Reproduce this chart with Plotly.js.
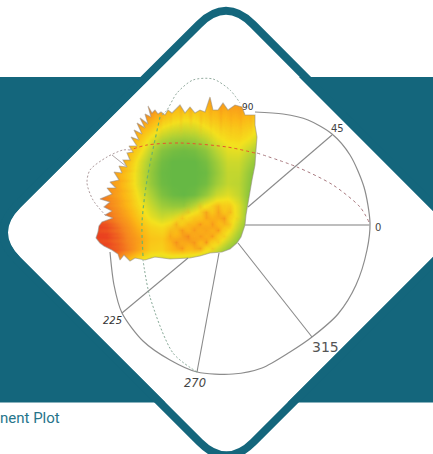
<!DOCTYPE html>
<html><head><meta charset="utf-8">
<script src="https://cdn.plot.ly/plotly-3.0.1.min.js"></script>
<style>html,body{margin:0;padding:0;background:#fff;overflow:hidden}#c{width:433px;height:454px}</style>
</head><body><div id="c"></div>
<script>
const gridX=[95,106,117,128,139,150,161,172,183,194,205,216,227,238,249,260];
const gridY=[95,106,117,128,139,150,161,172,183,194,205,216,227,238,249,260,271];
const surface=[
[.8,.8,.8,.85,.85,.85,.8,.72,.66,.66,.7,.74,.75,.78,.72,.6],
[.85,.85,.85,.85,.85,.82,.72,.64,.6,.58,.62,.68,.7,.72,.68,.6],
[.85,.85,.85,.85,.8,.7,.58,.5,.46,.46,.52,.58,.62,.64,.6,.5],
[.85,.85,.85,.78,.68,.54,.4,.34,.31,.33,.4,.47,.52,.54,.5,.4],
[.85,.85,.78,.7,.56,.38,.24,.18,.16,.18,.26,.38,.45,.47,.4,.28],
[.85,.82,.74,.62,.46,.26,.1,.05,.03,.05,.12,.26,.37,.38,.28,.16],
[.82,.78,.7,.56,.36,.17,.04,0,0,0,.05,.18,.31,.31,.2,.08],
[.82,.76,.68,.52,.33,.14,.02,0,0,0,.02,.15,.28,.28,.14,.04],
[.84,.78,.68,.52,.33,.15,.03,0,0,0,.04,.18,.28,.26,.12,.02],
[.88,.8,.7,.56,.38,.22,.08,.02,0,.03,.14,.3,.36,.28,.1,.02],
[.92,.85,.74,.6,.44,.3,.18,.14,.14,.26,.42,.52,.52,.36,.1,.02],
[.96,.9,.8,.68,.52,.38,.3,.34,.42,.52,.6,.62,.56,.36,.08,.02],
[1,.98,.88,.76,.62,.5,.46,.52,.6,.66,.68,.64,.5,.26,.06,.02],
[1,1,.92,.8,.7,.56,.54,.66,.7,.7,.64,.54,.34,.14,.03,.02],
[1,.98,.92,.82,.68,.52,.5,.62,.62,.58,.46,.32,.14,.05,.02,.02],
[.95,.9,.78,.58,.42,.32,.3,.28,.26,.22,.16,.1,.05,.02,.02,.02],
[.95,.9,.78,.58,.42,.32,.3,.28,.26,.22,.16,.1,.05,.02,.02,.02]];
const heatColors=[[0,'#66b844'],[.22,'#aed136'],[.42,'#f4e21e'],[.62,'#fcb716'],[.82,'#f6841f'],[1,'#ea3f20']];
const overlayColors=[[0,'rgba(250,225,40,.45)'],[.5,'rgba(250,180,30,0)'],[1,'rgba(238,100,30,.55)']];
const blotchX=[164,170,176,182,188,194,200,206,212,218,224,230,236,242];
const blotchY=[200,206,212,218,224,230,236,242,248,254];
const blotch=[
[.5,.5,.5,.5,.5,.5,.5,.5,.5,.5,.5,.5,.5,.5],
[.5,.5,.5,.5,.55,.45,.7,.4,.62,.8,.42,.66,.45,.5],
[.5,.5,.46,.6,.72,.36,.66,.9,.5,.86,.56,.78,.42,.5],
[.5,.5,.62,.78,.4,.6,.44,.82,.66,.74,.92,.38,.62,.5],
[.5,.58,.84,.42,.7,.62,.9,.36,.88,.44,.76,.7,.44,.5],
[.5,.72,.66,.9,.5,.84,.4,.72,.58,.92,.34,.6,.48,.5],
[.5,.8,.4,.76,.94,.34,.82,.62,.9,.42,.7,.44,.5,.5],
[.5,.62,.92,.56,.7,.88,.46,.96,.36,.72,.44,.5,.5,.5],
[.5,.42,.74,.9,.38,.76,.9,.44,.74,.46,.5,.5,.5,.5],
[.5,.5,.5,.5,.5,.5,.5,.5,.5,.5,.5,.5,.5,.5]];
const streakTopX=[150,155,160,165,170,175,180,185,190,195,200,205,210,215,220,225,230,235,240,245,250,255];
const streakTopY=[100,110,120,130,142];
const streakTop=[
[.7,.35,.75,.4,.7,.3,.75,.45,.8,.35,.7,.4,.75,.3,.8,.35,.7,.4,.75,.35,.7,.4],
[.7,.35,.75,.4,.7,.3,.75,.45,.8,.35,.7,.4,.75,.3,.8,.35,.7,.4,.75,.35,.7,.4],
[.6,.4,.7,.35,.65,.35,.7,.4,.7,.35,.72,.35,.7,.35,.75,.3,.7,.35,.7,.3,.7,.4],
[.55,.45,.6,.45,.55,.45,.6,.45,.55,.45,.62,.4,.62,.4,.65,.4,.62,.38,.65,.35,.6,.45],
[.5,.5,.5,.5,.5,.5,.5,.5,.5,.5,.5,.5,.5,.5,.5,.5,.5,.5,.5,.5,.5,.5]];
const streakLeftX=[95,105,115,125,135,145];
const streakLeftY=[150,155,160,165,170,175,180,185,190,195,200,205,210,215,220,225,230,235,240,245,250];
const streakLeft=[
[.7,.7,.7,.7,.55,.5],[.4,.4,.4,.35,.45,.5],[.7,.7,.7,.72,.55,.5],[.4,.4,.4,.38,.45,.5],
[.72,.72,.72,.7,.58,.5],[.38,.38,.35,.38,.45,.5],[.7,.72,.72,.7,.55,.5],[.4,.38,.38,.4,.45,.5],
[.72,.72,.7,.68,.55,.5],[.4,.36,.36,.4,.47,.5],[.7,.72,.72,.66,.55,.5],[.42,.36,.36,.42,.46,.5],
[.72,.74,.7,.66,.54,.5],[.4,.38,.38,.42,.46,.5],[.6,.7,.72,.64,.54,.5],[.5,.42,.4,.44,.47,.5],
[.6,.68,.7,.62,.54,.5],[.5,.44,.4,.44,.47,.5],[.58,.66,.7,.62,.54,.5],[.5,.44,.42,.46,.48,.5],[.5,.5,.5,.5,.5,.5]];
const edgeX=[130,124,120,118,112,107,104,100,96,98,99,102,113,105,112,104,110,100,112,107,116,110,119,114,122,119,127,123,130,127,133,129,137,131,139,134,142,137,145,140,148,145,151,148,152,155,158,161,165,168,172,175,180,185,190,195,200,205,210,213,218,223,228,235,242,245,250,255,255,257,256,255,252,249,246,245,241,237,230,222,210,200,190,170,155,145,135,130];
const edgeY=[261,255,260,254,250,248,246,243,238,232,226,222,218,215,211,207,202,199,194,188,188,182,180,172,173,166,167,160,160,153,152,146,146,137,140,130,134,123,128,118,124,114,117,106,113,110,114,112,115,110,113,110,105,113,107,113,110,112,97,110,110,103,110,105,107,115,115,115,125,137,150,165,180,197,215,225,237,243,249,252,253,256,258,259,257,260,258,261];
const maskX=[85,85,270,270,85];
const maskY=[85,280,280,85,85];
const rimX=[110,114,122,143,170,197,233,262,290,312,338,356,367,370,364,350,332,308,283,255];
const rimY=[252,285,313,341,360,372,374,368,352,337,314,285,250,223,187,155,134,120,114,112];
const spokes=[
 {name:'45',x:[332,248],y:[135,207]},
 {name:'0',x:[370,245],y:[225,225]},
 {name:'315',x:[312,238],y:[337,243]},
 {name:'270',x:[197,219],y:[372,253]},
 {name:'225',x:[122,188],y:[313,258]}];
const redOutX=[369,360,333,297,257];
const redOutY=[222,207,185,167,153];
const redOnX=[255,227,180,147,130];
const redOnY=[153,147,143,145,150];
const redLeftX=[130,123,107,90,87,93,107];
const redLeftY=[150,150,157,170,183,200,217];
const greyStubX=[112,127];
const greyStubY=[155,167];
const greenLowX=[197,173,150,143];
const greenLowY=[372,353,297,260];
const greenOnX=[143,142,147,160];
const greenOnY=[256,223,180,117];
const greenUpX=[162,167,177,193,213,230,240];
const greenUpY=[115,110,93,80,79,90,103];
const labels=[
 {t:'90',x:248,y:107,s:9,c:'#333',i:false},
 {t:'45',x:337,y:128,s:10,c:'#444',i:false},
 {t:'0',x:378,y:227,s:10,c:'#444',i:false},
 {t:'315',x:325,y:347,s:14,c:'#555',i:false},
 {t:'270',x:195,y:383,s:11.5,c:'#444',i:true},
 {t:'225',x:112,y:320,s:10,c:'#333',i:true}];
const captionText='nent Plot';

const teal='#14667c';
const ln=(x,y,color,width,dash,shape)=>({type:'scatter',mode:'lines',x,y,hoverinfo:'skip',showlegend:false,
  line:{color,width,dash:dash||'solid',shape:shape||'linear',smoothing:.8}});
const overlay=(x,y,z)=>({type:'heatmap',x,y,z,colorscale:overlayColors,zmin:0,zmax:1,zsmooth:'best',showscale:false,hoverinfo:'skip'});
const dash='3px,3px';
const traces=[
 {type:'heatmap',x:gridX,y:gridY,z:surface,colorscale:heatColors,zmin:0,zmax:1,zsmooth:'best',showscale:false,hoverinfo:'skip'},
 overlay(blotchX,blotchY,blotch),
 overlay(streakTopX,streakTopY,streakTop),
 overlay(streakLeftX,streakLeftY,streakLeft),
 {type:'scatter',mode:'lines',x:maskX.concat([null],edgeX),y:maskY.concat([null],edgeY),fill:'toself',fillcolor:'#fff',
  line:{width:0,color:'rgba(0,0,0,0)'},hoverinfo:'skip',showlegend:false},
 ln(edgeX,edgeY,'rgba(150,140,130,.55)',1.1),
 ln(rimX,rimY,'#8c8c8c',1.2,null,'spline')];
spokes.forEach(s=>traces.push(ln(s.x,s.y,s.name==='0'?'#a8a8a8':'#8a8a8a',s.name==='0'?1.5:1.1)));
traces.push(
 ln(redOutX,redOutY,'#a97a80',1,dash,'spline'),
 ln(redOnX,redOnY,'#e8532f',1,dash,'spline'),
 ln(redLeftX,redLeftY,'#ad9a9c',1,'2px,2px','spline'),
 ln(greyStubX,greyStubY,'#b0a8a8',1),
 ln(greenLowX,greenLowY,'#86a896',1,'2px,2px','spline'),
 ln(greenOnX,greenOnY,'#6fb566',1.2,dash,'spline'),
 ln(greenUpX,greenUpY,'#94aca0',1,'2px,2px','spline'));

const ringDiamond='M16.8,205.5 L199,24.3 Q226,-2.7 253,24.3 L434.7,207 Q461.7,234 434.7,261 L253.5,442 Q226.5,469 199.5,442 L16.8,259.5 Q-10.2,232.5 16.8,205.5 Z';
const tealLeft='M0,77 L151,77 L20.5,207.5 Q-4.5,232.5 20.5,257.5 L165.5,402.5 L0,402.5 Z';
const tealRight='M433,77 L299,77 L431,209 Q456,234 431,259 L287.5,402.5 L433,402.5 Z';
const shapes=[
 {type:'path',layer:'above',xref:'x',yref:'y',fillcolor:teal,line:{width:0},path:tealLeft},
 {type:'path',layer:'above',xref:'x',yref:'y',fillcolor:teal,line:{width:0},path:tealRight},
 {type:'path',layer:'above',xref:'x',yref:'y',fillcolor:'rgba(0,0,0,0)',line:{color:teal,width:8},path:ringDiamond}];
const annotations=labels.map(l=>({x:l.x,y:l.y,xref:'x',yref:'y',text:l.i?'<i>'+l.t+'</i>':l.t,showarrow:false,
  font:{family:'DejaVu Sans',size:l.s,color:l.c},xanchor:'center',yanchor:'middle'}));
annotations.push({x:0,y:418,xref:'x',yref:'y',text:captionText,showarrow:false,xanchor:'left',yanchor:'middle',xshift:-2,
  font:{family:'Roboto',size:15,color:'#26758b'}});
Plotly.newPlot('c',traces,{width:433,height:454,margin:{l:0,r:0,t:0,b:0,pad:0},paper_bgcolor:'#fff',plot_bgcolor:'#fff',
  showlegend:false,
  xaxis:{range:[0,433],visible:false,fixedrange:true},
  yaxis:{range:[454,0],visible:false,fixedrange:true},
  shapes,annotations},{displayModeBar:false,staticPlot:true});
</script></body></html>
